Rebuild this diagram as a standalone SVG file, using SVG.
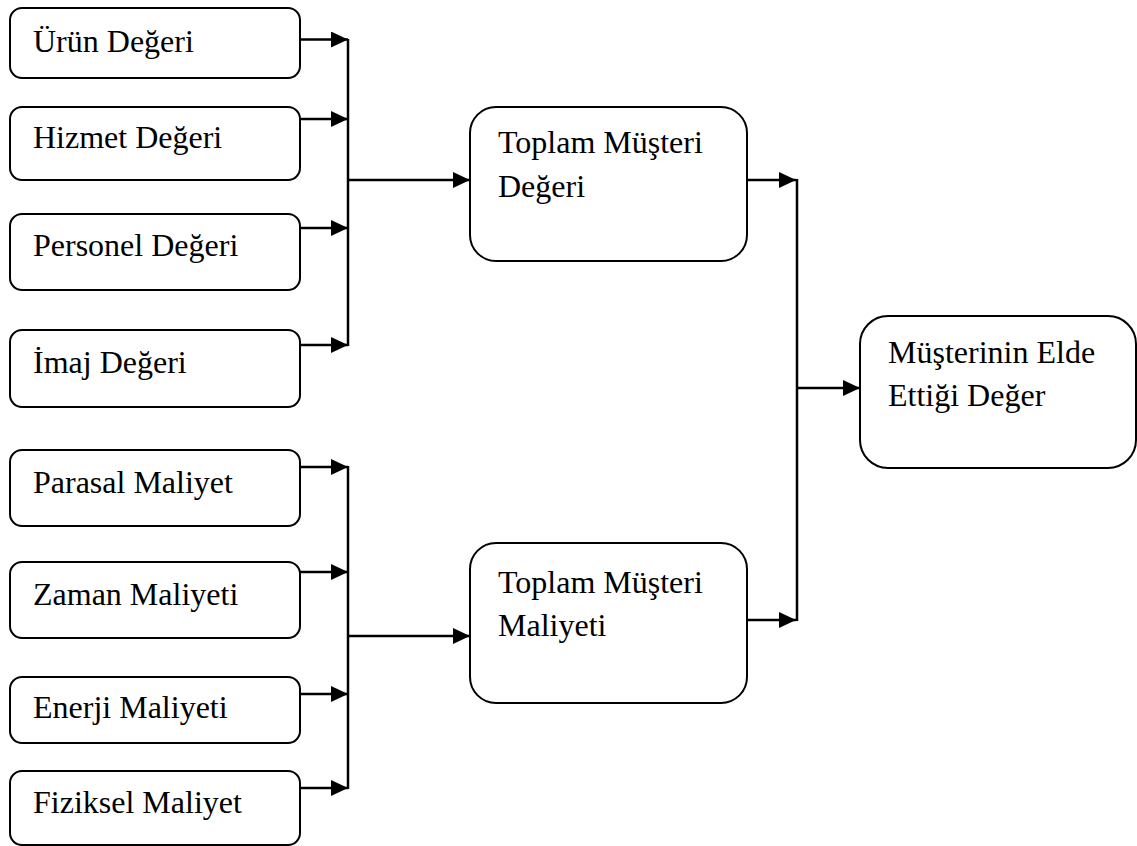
<svg xmlns="http://www.w3.org/2000/svg" width="1137" height="846" viewBox="0 0 1137 846">
<defs>
<style>
.box{fill:#fff;stroke:#000;stroke-width:2}
.t{font-family:"Liberation Serif","Times New Roman",serif;font-size:32px;fill:#000}
.c{stroke:#000;stroke-width:2.5;fill:none}
</style>
<marker id="ah" markerWidth="17" markerHeight="16" refX="17" refY="8" orient="auto" markerUnits="userSpaceOnUse">
<path d="M0,0 L17,8 L0,16 Z" fill="#000"/>
</marker>
</defs>
<rect width="1137" height="846" fill="#fff"/>
<g id="n-urun"><rect class="box" x="10" y="8" width="290" height="70" rx="12"/><text class="t" x="33" y="52">Ürün Değeri</text></g>
<g id="n-hizmet"><rect class="box" x="10" y="107" width="290" height="73" rx="12"/><text class="t" x="33" y="148">Hizmet Değeri</text></g>
<g id="n-personel"><rect class="box" x="10" y="214" width="290" height="76" rx="12"/><text class="t" x="33" y="256">Personel Değeri</text></g>
<g id="n-imaj"><rect class="box" x="10" y="330" width="290" height="77" rx="12"/><text class="t" x="33" y="373">İmaj Değeri</text></g>
<g id="n-parasal"><rect class="box" x="10" y="450" width="290" height="76" rx="12"/><text class="t" x="33" y="493">Parasal Maliyet</text></g>
<g id="n-zaman"><rect class="box" x="10" y="562" width="290" height="76" rx="12"/><text class="t" x="33" y="605">Zaman Maliyeti</text></g>
<g id="n-enerji"><rect class="box" x="10" y="677" width="290" height="66" rx="12"/><text class="t" x="33" y="718">Enerji Maliyeti</text></g>
<g id="n-fiziksel"><rect class="box" x="10" y="771" width="290" height="74" rx="12"/><text class="t" x="33" y="813">Fiziksel Maliyet</text></g>
<g id="n-toplam-deger"><rect class="box" x="470" y="107" width="277" height="154" rx="26"/><text class="t" x="498" y="153">Toplam Müşteri</text><text class="t" x="498" y="197">Değeri</text></g>
<g id="n-toplam-maliyet"><rect class="box" x="470" y="543" width="277" height="160" rx="26"/><text class="t" x="498" y="593">Toplam Müşteri</text><text class="t" x="498" y="636">Maliyeti</text></g>
<g id="n-elde"><rect class="box" x="860" y="316" width="276" height="152" rx="28"/><text class="t" x="888" y="363">Müşterinin Elde</text><text class="t" x="888" y="406">Ettiği Değer</text></g>
<g id="connectors">
<path class="c" d="M300,39.5 H348" marker-end="url(#ah)"/>
<path class="c" d="M300,119 H348" marker-end="url(#ah)"/>
<path class="c" d="M300,228 H348" marker-end="url(#ah)"/>
<path class="c" d="M300,345 H348" marker-end="url(#ah)"/>
<path class="c" d="M348,39 V346"/>
<path class="c" d="M348,180 H470" marker-end="url(#ah)"/>
<path class="c" d="M300,467 H348" marker-end="url(#ah)"/>
<path class="c" d="M300,572 H348" marker-end="url(#ah)"/>
<path class="c" d="M300,694 H348" marker-end="url(#ah)"/>
<path class="c" d="M300,788 H348" marker-end="url(#ah)"/>
<path class="c" d="M348,466 V789"/>
<path class="c" d="M348,636 H470" marker-end="url(#ah)"/>
<path class="c" d="M747,180 H796" marker-end="url(#ah)"/>
<path class="c" d="M747,620 H796" marker-end="url(#ah)"/>
<path class="c" d="M797,179 V621"/>
<path class="c" d="M797,388 H860" marker-end="url(#ah)"/>
</g>
</svg>
